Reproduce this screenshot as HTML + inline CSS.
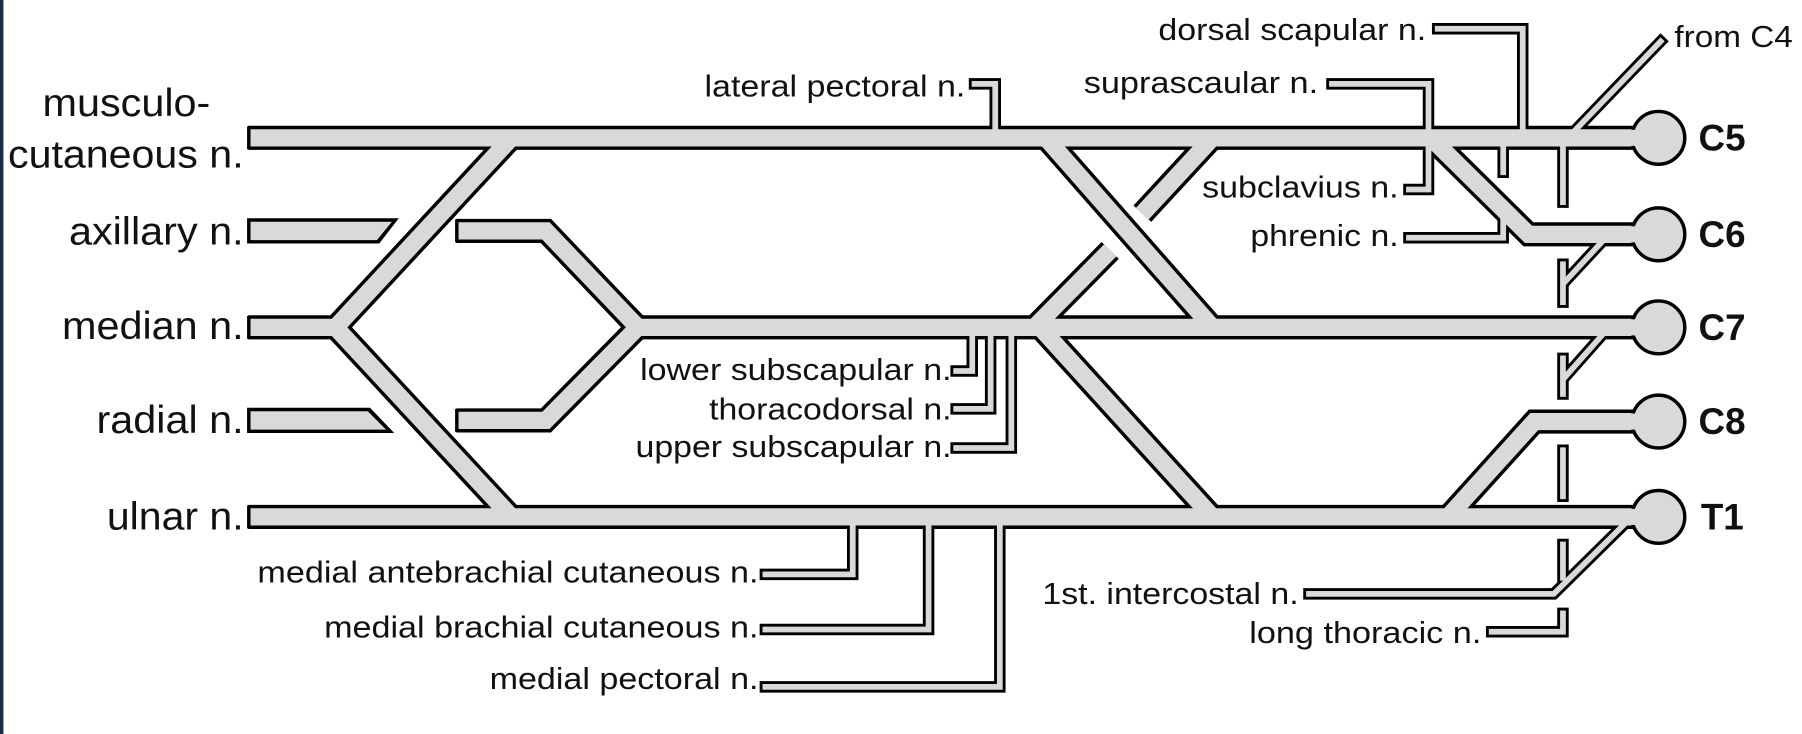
<!DOCTYPE html>
<html><head><meta charset="utf-8"><style>
html,body{margin:0;padding:0;background:#fff;}
svg{display:block;}
text{font-family:"Liberation Sans",Arial,sans-serif;fill:#111;}
.k{fill:none;stroke:#000;stroke-linejoin:miter;}
.g{fill:none;stroke:#d9d9d9;stroke-linejoin:miter;}
.tk{stroke-width:21;stroke-linecap:butt;}
.tg{stroke-width:15;stroke-linecap:butt;}
.nk{stroke-width:10;stroke-linecap:square;}
.ng{stroke-width:5;stroke-linecap:square;}
.l{font-size:27px;text-anchor:end;}
.b{font-size:34px;text-anchor:end;}
.c{font-size:32px;font-weight:bold;}
</style></head><body>
<svg width="1802" height="734" viewBox="0 0 1568 639" preserveAspectRatio="none" xmlns="http://www.w3.org/2000/svg">
<rect x="0" y="0" width="3" height="639" fill="#1c2a44"/>
<defs>
<g id="thin">
<path d="M848 73 H866 V120"/>
<path d="M1251 25 H1325 V120"/>
<path d="M1159 73 H1243 V165 H1226"/>
<path d="M1226 207 H1308 V182"/>
<path d="M1308 150 V125"/>
<path d="M832 323 H846 V285"/>
<path d="M832 356 H862 V285"/>
<path d="M832 390 H880 V285"/>
<path d="M666 500 H742 V450"/>
<path d="M666 548 H808 V450"/>
<path d="M666 598 H870 V450"/>
<path d="M1139 517 H1352 L1425 445"/>
<path d="M1445 36 L1370 114"/>
<path d="M1360 125 V176"/>
<path d="M1360 230 V263"/>
<path d="M1360 312 V343"/>
<path d="M1360 392 V432"/>
<path d="M1360 474 V503"/>
<path d="M1360 534 V550 H1298"/>
<path d="M1400 204 L1362 245"/>
<path d="M1400 285 L1362 328"/>
</g>
<g id="thick">
<path d="M216 120 H1440"/>
<path d="M216 285 H292 L445 120"/>
<path d="M292 285 L445 450"/>
<path d="M216 450 H1440"/>
<path d="M548 285 H1440"/>
<path d="M397 201 H475 L555 285"/>
<path d="M397 366 H475 L555 285"/>
<path d="M910 120 L1055 285"/>
<path d="M905 285 L1055 450"/>
<path d="M900 285 L966 218"/>
<path d="M994 186 L1055 120"/>
<path d="M1245 120 L1330 204 H1440"/>
<path d="M1440 367 H1335 L1260 450"/>
</g>
</defs>
<g class="k tk"><use href="#thick"/></g>
<g class="k nk"><use href="#thin"/></g>
<polygon points="215,190 347,190 330,212 215,212" fill="#000"/>
<polygon points="215,355 322,355 343,377 215,377" fill="#000"/>
<g class="g ng"><use href="#thin"/></g>
<g class="g tg"><use href="#thick"/></g>
<polygon points="218,193 341,193 328,209 218,209" fill="#d9d9d9"/>
<polygon points="218,358 320,358 336,374 218,374" fill="#d9d9d9"/>
<g stroke="#000" stroke-width="3">
<line x1="216.5" y1="110" x2="216.5" y2="130"/>
<line x1="216.5" y1="275" x2="216.5" y2="295"/>
<line x1="216.5" y1="440" x2="216.5" y2="460"/>
<line x1="397.5" y1="191" x2="397.5" y2="211"/>
<line x1="397.5" y1="356" x2="397.5" y2="376"/>
</g>
<g fill="#d9d9d9" stroke="#000" stroke-width="3">
<circle cx="1443" cy="120" r="23"/>
<circle cx="1443" cy="204" r="23"/>
<circle cx="1443" cy="285" r="23"/>
<circle cx="1443" cy="367" r="23"/>
<circle cx="1443" cy="450" r="23"/>
</g>
<rect x="1418" y="113" width="12" height="14" fill="#d9d9d9"/>
<rect x="1418" y="197" width="12" height="14" fill="#d9d9d9"/>
<rect x="1418" y="278" width="12" height="14" fill="#d9d9d9"/>
<rect x="1418" y="360" width="12" height="14" fill="#d9d9d9"/>
<rect x="1418" y="443" width="12" height="14" fill="#d9d9d9"/>
<text class="b" x="183" y="101" textLength="146" lengthAdjust="spacingAndGlyphs">musculo-</text>
<text class="b" x="212" y="146" textLength="205" lengthAdjust="spacingAndGlyphs">cutaneous n.</text>
<text class="b" x="212" y="213" textLength="152" lengthAdjust="spacingAndGlyphs">axillary n.</text>
<text class="b" x="212" y="295" textLength="158" lengthAdjust="spacingAndGlyphs">median n.</text>
<text class="b" x="212" y="377" textLength="128" lengthAdjust="spacingAndGlyphs">radial n.</text>
<text class="b" x="212" y="461" textLength="119" lengthAdjust="spacingAndGlyphs">ulnar n.</text>
<text class="l" x="840" y="84" textLength="227" lengthAdjust="spacingAndGlyphs">lateral pectoral n.</text>
<text class="l" x="1241" y="35" textLength="233" lengthAdjust="spacingAndGlyphs">dorsal scapular n.</text>
<text x="1457" y="41" style="font-size:27px" textLength="103" lengthAdjust="spacingAndGlyphs">from C4</text>
<text class="l" x="1147" y="81" textLength="204" lengthAdjust="spacingAndGlyphs">suprascaular n.</text>
<text class="l" x="1217" y="172" textLength="171" lengthAdjust="spacingAndGlyphs">subclavius n.</text>
<text class="l" x="1217" y="214" textLength="129" lengthAdjust="spacingAndGlyphs">phrenic n.</text>
<text class="l" x="828" y="331" textLength="271" lengthAdjust="spacingAndGlyphs">lower subscapular n.</text>
<text class="l" x="828" y="365" textLength="211" lengthAdjust="spacingAndGlyphs">thoracodorsal n.</text>
<text class="l" x="828" y="398" textLength="275" lengthAdjust="spacingAndGlyphs">upper subscapular n.</text>
<text class="l" x="660" y="507" textLength="436" lengthAdjust="spacingAndGlyphs">medial antebrachial cutaneous n.</text>
<text class="l" x="660" y="555" textLength="378" lengthAdjust="spacingAndGlyphs">medial brachial cutaneous n.</text>
<text class="l" x="660" y="600" textLength="234" lengthAdjust="spacingAndGlyphs">medial pectoral n.</text>
<text class="l" x="1130" y="526" textLength="223" lengthAdjust="spacingAndGlyphs">1st. intercostal n.</text>
<text class="l" x="1289" y="560" textLength="202" lengthAdjust="spacingAndGlyphs">long thoracic n.</text>
<text class="c" x="1478" y="131">C5</text>
<text class="c" x="1478" y="215">C6</text>
<text class="c" x="1478" y="296">C7</text>
<text class="c" x="1478" y="378">C8</text>
<text class="c" x="1480" y="461">T1</text>
</svg>
</body></html>
